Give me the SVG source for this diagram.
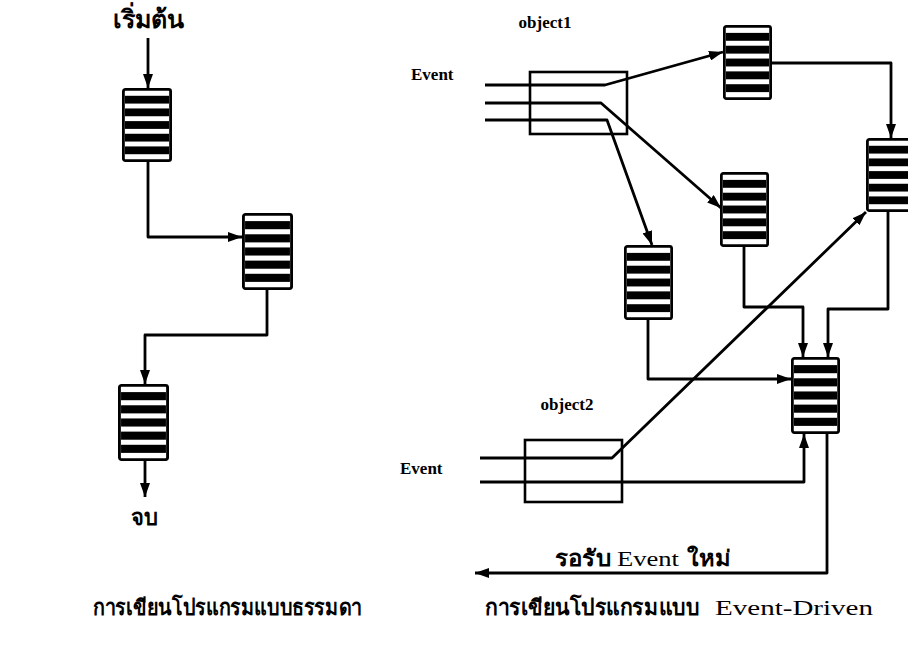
<svg xmlns="http://www.w3.org/2000/svg" width="908" height="645" viewBox="0 0 908 645">
<style>
.ln{fill:none;stroke:#000;stroke-width:2.8;stroke-linejoin:round}
.arr{marker-end:url(#ah)}
.box{fill:none;stroke:#000;stroke-width:2.6}
.th{font-family:"DejaVu Sans","Noto Sans",sans-serif;font-weight:bold;fill:#000}
.en{font-family:"Liberation Serif",serif;fill:#000}
.lbl{font-family:"Liberation Serif",serif;font-weight:bold;font-size:17px;fill:#000}
</style>
<defs>
<marker id="ah" viewBox="0 0 14 10" refX="14" refY="5" markerWidth="14" markerHeight="10" markerUnits="userSpaceOnUse" orient="auto">
<path d="M0,0 L14,5 L0,10 Z" fill="#000"/>
</marker>
<symbol id="blk" viewBox="0 0 50 76" preserveAspectRatio="none">
<rect x="1.4" y="1.4" width="47.2" height="73.2" rx="2" fill="#fff" stroke="#000" stroke-width="2.8"/>
<rect x="3" y="8" width="44" height="8" fill="#000"/>
<rect x="3" y="21" width="44" height="8" fill="#000"/>
<rect x="3" y="34" width="44" height="8" fill="#000"/>
<rect x="3" y="47" width="44" height="8" fill="#000"/>
<rect x="3" y="60" width="44" height="8" fill="#000"/>
</symbol>
</defs>
<rect width="908" height="645" fill="#fff"/>

<g id="connectors">
<!-- left sequential -->
<path class="ln arr" d="M148,38 V88"/>
<path class="ln arr" d="M148,162 V237 H242"/>
<path class="ln arr" d="M267,290 V335 H145 V384"/>
<path class="ln arr" d="M145,461 V497"/>
<!-- object1 events -->
<path class="ln arr" d="M485,85 H605 L723,52"/>
<path class="ln arr" d="M485,103 H601 L721,208"/>
<path class="ln arr" d="M485,120 H607 L652,245"/>
<!-- block to block -->
<path class="ln arr" d="M772,63 H891 V138"/>
<path class="ln arr" d="M744,247 V307 H803 V357"/>
<path class="ln arr" d="M888,212 V309 H828 V357"/>
<path class="ln arr" d="M648,320 V379 H791"/>
<!-- object2 events -->
<path class="ln arr" d="M480,458 H612 L866,212"/>
<path class="ln arr" d="M480,482 H804 V434"/>
<!-- loop back -->
<path class="ln arr" d="M827,434 V573 H475"/>
</g>

<g id="start"><text class="th" x="148" y="28" font-size="25" text-anchor="middle">เริ่มต้น</text></g>
<g id="step1"><use href="#blk" x="122" y="88" width="50" height="74"/></g>
<g id="step2"><use href="#blk" x="242" y="213" width="51" height="77"/></g>
<g id="step3"><use href="#blk" x="118" y="384" width="51" height="77"/></g>
<g id="end"><text class="th" x="144" y="525" font-size="22" text-anchor="middle">จบ</text></g>
<g id="caption-left"><text class="th" x="93" y="615" font-size="22" textLength="269" lengthAdjust="spacingAndGlyphs">การเขียนโปรแกรมแบบธรรมดา</text></g>

<g id="object1">
<text class="lbl" x="545" y="28" text-anchor="middle">object1</text>
<text class="lbl" x="411" y="80">Event</text>
<rect class="box" x="530" y="72" width="97" height="62"/>
</g>
<g id="blockA"><use href="#blk" x="723" y="25" width="49" height="75"/></g>
<g id="blockB"><use href="#blk" x="624" y="245" width="49" height="75"/></g>
<g id="blockC"><use href="#blk" x="720" y="172" width="49" height="75"/></g>
<g id="blockD"><use href="#blk" x="866" y="138" width="50" height="74"/></g>
<g id="blockE"><use href="#blk" x="791" y="357" width="49" height="77"/></g>

<g id="object2">
<text class="lbl" x="567" y="410" text-anchor="middle">object2</text>
<text class="lbl" x="400" y="474">Event</text>
<rect class="box" x="525" y="440" width="97" height="62"/>
</g>

<g id="wait-label"><text class="th" y="566" font-size="22"><tspan x="555" textLength="56" lengthAdjust="spacingAndGlyphs">รอรับ</tspan><tspan class="en" font-weight="normal" font-size="21" x="617" textLength="62" lengthAdjust="spacingAndGlyphs">Event</tspan><tspan x="687" textLength="44" lengthAdjust="spacingAndGlyphs">ใหม่</tspan></text></g>
<g id="caption-right"><text class="th" y="615" font-size="22"><tspan x="485" textLength="214" lengthAdjust="spacingAndGlyphs">การเขียนโปรแกรมแบบ</tspan><tspan class="en" font-weight="normal" font-size="21" x="715" textLength="158" lengthAdjust="spacingAndGlyphs">Event-Driven</tspan></text></g>
</svg>
